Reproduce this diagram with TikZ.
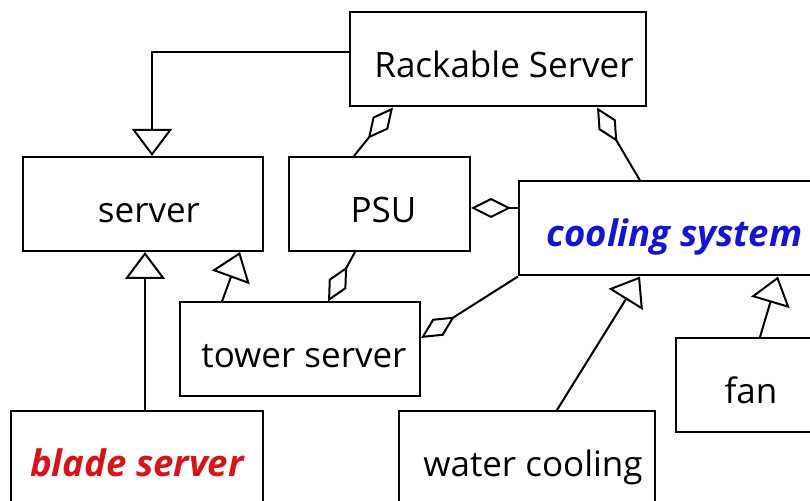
\documentclass[tikz,border=0pt]{standalone}
\usepackage{fontspec}
\setmainfont{Open Sans}
\usepackage{tikz}
\usetikzlibrary{arrows.meta}

\definecolor{clsblue}{RGB}{20,20,215}
\definecolor{clsred}{RGB}{215,20,25}

\begin{document}
\begin{tikzpicture}[x=0.5pt, y=-0.5pt, line width=1pt,
	box/.style={draw, rectangle, inner sep=0pt, minimum height=47pt, text height=18.5pt, text depth=0pt, font=\fontsize{17.5}{21}\selectfont},
	abstract/.style={font=\fontsize{18.3}{21}\selectfont\bfseries\itshape},
	inherit/.style={-{Triangle[open, length=13.5pt, width=20pt]}},
	aggr/.style={{Diamond[open, length=20pt, width=10pt]}-},
	aggrend/.style={-{Diamond[open, length=20pt, width=10pt]}}]
	\useasboundingbox (0,0) rectangle (810,501);
	\clip (0,0) rectangle (810,501);

	% 1. classes
	\node[box, minimum width=148pt] (rack) at (498,59.5) {\hspace{6pt}Rackable Server};
	\node[box, minimum width=120pt] (server) at (143,204) {\hspace{6pt}server};
	\node[box, minimum width=90.5pt] (psu) at (379.5,204) {\hspace{4pt}PSU};
	\node[box, abstract, text=clsblue, minimum width=155.5pt] (cool) at (674.5,228.5) {cooling system};
	\node[box, minimum width=120pt] (tower) at (300,349.5) {\hspace{4pt}tower server};
	\node[box, minimum width=75pt] (fan) at (751,385) {fan};
	\node[box, abstract, text=clsred, minimum width=126pt] (blade) at (137,458) {blade server};
	\node[box, minimum width=128pt] (water) at (527,458) {\hspace{6pt}water cooling};

	% 2. inheritance
	\draw[inherit] ([yshift=3.75pt]rack.west) -| ([xshift=4.5pt]server.north);
	\draw[inherit] ([xshift=4pt]blade.north) -- ([xshift=1pt]server.south);
	\draw[inherit] ([xshift=-39pt]tower.north) -- ([xshift=48.5pt]server.south);
	\draw[inherit] ([xshift=15pt]water.north) -- ([xshift=-17.25pt]cool.south);
	\draw[inherit] ([xshift=4.5pt]fan.north) -- ([xshift=51.75pt]cool.south);

	% 3. aggregation
	\draw[aggr] ([xshift=-52.5pt]rack.south) -- ([xshift=-12.75pt]psu.north);
	\draw[aggr] ([xshift=49.5pt]rack.south) -- ([xshift=-17.25pt]cool.north);
	\draw[aggr] ([yshift=-2pt]psu.east) -- ([yshift=10.25pt]cool.west);
	\draw[aggrend] ([xshift=-12.25pt]psu.south) -- ([xshift=14pt]tower.north);
	\draw[aggrend] (cool.south west) -- ([yshift=5.75pt]tower.east);
\end{tikzpicture}
\end{document}
